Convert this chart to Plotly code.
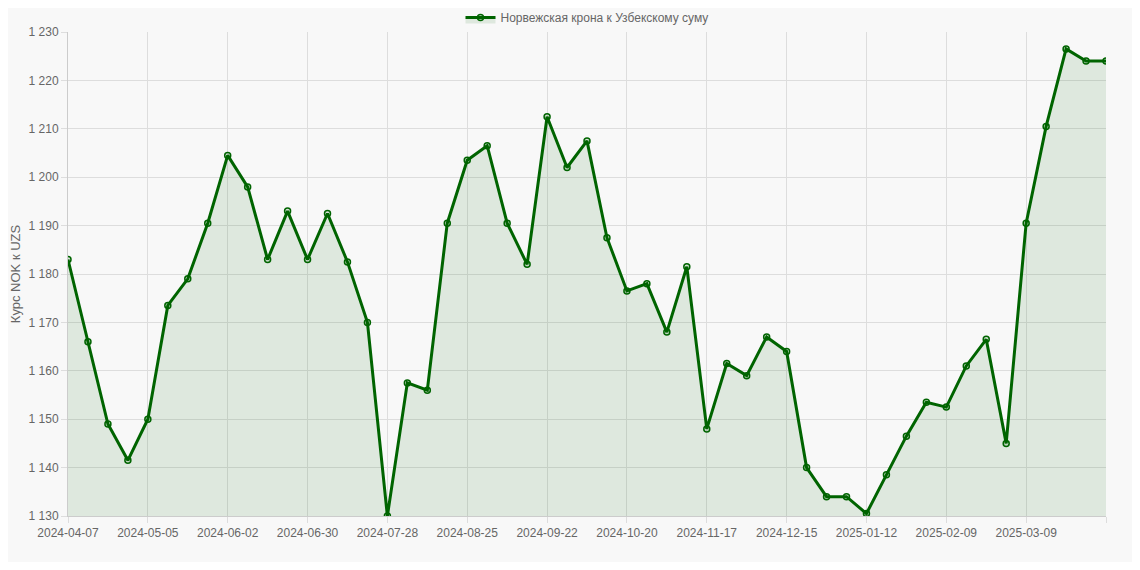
import plotly.graph_objects as go
import datetime as dt

start = dt.date(2024, 4, 7)
dates = [(start + dt.timedelta(weeks=i)).isoformat() for i in range(52)] + ["2025-03-31"]
values = [1183, 1166, 1149, 1141.5, 1150, 1173.5, 1179, 1190.5, 1204.5, 1198,
          1183, 1193, 1183, 1192.5, 1182.5, 1170, 1130, 1157.5, 1156, 1190.5,
          1203.5, 1206.5, 1190.5, 1182, 1212.5, 1202, 1207.5, 1187.5, 1176.5, 1178,
          1168, 1181.5, 1148, 1161.5, 1159, 1167, 1164, 1140, 1134, 1134,
          1130.5, 1138.5, 1146.5, 1153.5, 1152.5, 1161, 1166.5, 1145, 1190.5, 1210.5,
          1226.5, 1224, 1224]
series_name = "Норвежская крона к Узбекскому суму"
y_title = "Курс NOK к UZS"

x = list(range(len(dates)))
tickvals = list(range(0, len(dates), 4))
ticktext = [dates[i] for i in tickvals]

fig = go.Figure()
fig.add_trace(go.Scatter(
    x=x, y=values, name=series_name, mode="lines+markers",
    line=dict(color="#006400", width=3),
    marker=dict(size=6, color="rgba(0,100,0,0.15)", line=dict(color="#006400", width=1.5)),
    fill="tozeroy", fillcolor="rgba(0,100,0,0.1)",
))
fig.update_layout(
    width=1124, height=554,
    margin=dict(l=60, r=26, t=24, b=46, autoexpand=False),
    paper_bgcolor="#f8f8f8", plot_bgcolor="#f8f8f8",
    separators=", ",
    font=dict(family="Liberation Sans, Arial", size=12, color="#666"),
    showlegend=True,
    legend=dict(orientation="h", x=0.5, xanchor="center", y=1.0, yanchor="bottom",
                font=dict(size=12, color="#666")),
    xaxis=dict(range=[0, len(dates) - 1], tickmode="array", tickvals=tickvals, ticktext=ticktext,
               showgrid=True, gridcolor="#dddddd", zeroline=False, showline=True, linecolor="#cccccc",
               tickangle=0, ticks="outside", ticklen=6, tickcolor="#dddddd", automargin=False),
    yaxis=dict(range=[1130, 1230], dtick=10, tickformat=",d", showgrid=True, gridcolor="#dddddd",
               zeroline=False, showline=True, linecolor="#cccccc", automargin=False,
               title=dict(text=y_title, font=dict(size=13, color="#666"), standoff=8),
               ticks="outside", ticklen=6, tickcolor="#dddddd"),
)
fig.write_html("out.html")
